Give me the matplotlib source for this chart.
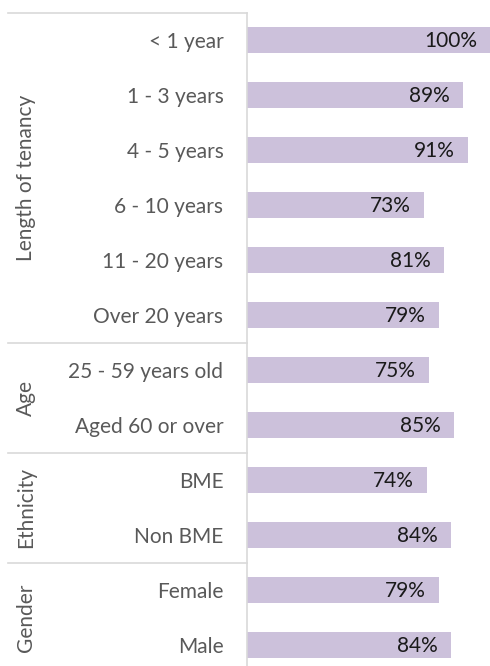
import matplotlib.pyplot as plt
import matplotlib.transforms as mtransforms

categories = ['< 1 year', '1 - 3 years', '4 - 5 years', '6 - 10 years', '11 - 20 years',
              'Over 20 years', '25 - 59 years old', 'Aged 60 or over', 'BME', 'Non BME',
              'Female', 'Male']
values = [100, 89, 91, 73, 81, 79, 75, 85, 74, 84, 79, 84]
groups = ['Length of tenancy', 'Age', 'Ethnicity', 'Gender']
group_sizes = [6, 2, 2, 2]

plt.rcParams['font.family'] = ['Lato', 'DejaVu Sans']

W, H = 490, 666
fig = plt.figure(figsize=(W / 100, H / 100), dpi=100)
# axes placed in pixel terms; bottom row is clipped by the figure edge like the original
ax = fig.add_axes([247 / W, -6.5 / H, 1 - 247 / W, 660 / H])

bar_color = '#CCC1DB'
line_color = '#D9D9D9'
fs = 15
ypos = list(range(len(categories)))
ax.barh(ypos, values, height=0.49, color=bar_color)
ax.set_xlim(0, 100)
ax.set_ylim(len(categories) - 0.5, -0.5)

for y, v in zip(ypos, values):
    ax.annotate(f'{v}%', xy=(v, y), xytext=(-9.5, -1), textcoords='offset points',
                ha='right', va='center', fontsize=fs, color='#1a1a1a')

ax.set_yticks(ypos)
ax.set_yticklabels(categories, fontsize=fs, color='#595959')
ax.tick_params(axis='y', length=0, pad=17)
ax.set_xticks([])
for s in ['top', 'right', 'bottom']:
    ax.spines[s].set_visible(False)
ax.spines['left'].set_color(line_color)
ax.spines['left'].set_linewidth(1.2)

# group separators and rotated group names
trans = mtransforms.blended_transform_factory(fig.transFigure, ax.transData)
start = 0
bounds = [-0.5]
for g, n in zip(groups, group_sizes):
    mid = start + (n - 1) / 2
    ax.text(26 / W, mid, g, transform=trans, rotation=90, ha='center', va='center',
            fontsize=fs, color='#595959')
    start += n
    bounds.append(start - 0.5)
for b in bounds[:-1]:
    ax.plot([8 / W, 247 / W], [b, b], transform=trans, color=line_color,
            linewidth=1.2, clip_on=False)

fig.savefig('out.png', dpi=100)
